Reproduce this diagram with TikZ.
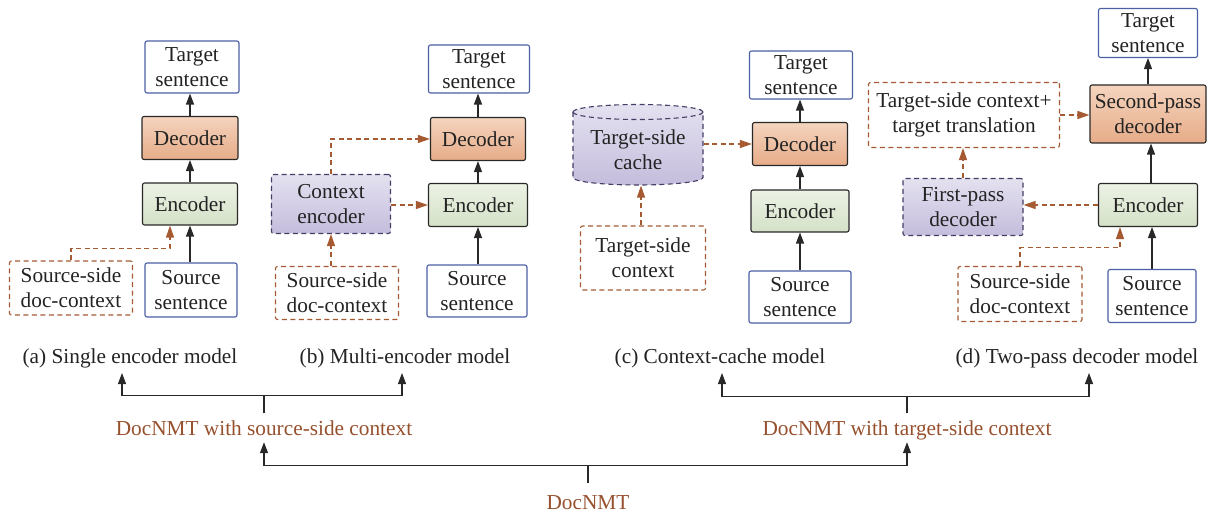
\documentclass[tikz,border=0pt]{standalone}
\usepackage{fontspec}
\setmainfont{Liberation Serif}
\usetikzlibrary{arrows.meta,calc}
\definecolor{txt}{RGB}{35,35,35}
\definecolor{lin}{RGB}{40,40,40}
\definecolor{sentb}{RGB}{75,95,165}
\definecolor{boxb}{RGB}{40,40,40}
\definecolor{decT}{RGB}{245,212,190}
\definecolor{decB}{RGB}{230,172,136}
\definecolor{encT}{RGB}{236,242,229}
\definecolor{encB}{RGB}{212,225,199}
\definecolor{purT}{RGB}{228,225,240}
\definecolor{purB}{RGB}{196,189,220}
\definecolor{purb}{RGB}{70,60,100}
\definecolor{brownl}{RGB}{165,90,50}
\definecolor{brownt}{RGB}{150,80,45}
\begin{document}
\begin{tikzpicture}[x=1pt,y=1pt,
  font=\fontsize{21.3pt}{25pt}\selectfont,
  sz/.style 2 args={minimum width=#1, minimum height=#2},
  base/.style={inner sep=0pt, align=center, text=txt, line width=1.1pt, rounded corners=2pt},
  sent/.style={base, draw=sentb, fill=white},
  decbox/.style={base, draw=boxb, top color=decT, bottom color=decB},
  encbox/.style={base, draw=boxb, top color=encT, bottom color=encB},
  ctxbox/.style={base, draw=purb, dash pattern=on 5pt off 3.5pt, top color=purT, bottom color=purB},
  docbox/.style={base, draw=brownl, dash pattern=on 5pt off 3.5pt},
  arr/.style={draw=lin, line width=1.1pt, -{Triangle[length=11pt,width=8pt]}},
  darr/.style={draw=brownl, line width=1.1pt, dash pattern=on 5pt off 3.5pt, -{Triangle[length=12pt,width=8pt]}},
  captxt/.style={inner sep=0pt, anchor=base, text=txt},
  lbl/.style={text=brownt, inner xsep=0pt, inner ysep=7pt, text height=14.5pt, text depth=0pt, anchor=base}
]
\useasboundingbox (0,0) rectangle (1208,-513);

% ---------- (a) ----------
\node[sent, sz={94pt}{52pt}] (tsa) at (192,-67) {Target\\sentence};
\node[decbox, sz={96pt}{43pt}] (deca) at (190,-138) {Decoder};
\node[encbox, sz={95pt}{42pt}] (enca) at (190,-204) {Encoder};
\node[sent, sz={92pt}{54pt}] (ssa) at (191,-290) {Source\\sentence};
\node[docbox, sz={123pt}{54pt}] (doca) at (71,-288) {Source-side\\doc-context};
\draw[arr] (ssa.north -| enca.south) -- (enca.south);
\draw[arr] (enca.north) -- (deca.south);
\draw[arr] (deca.north) -- (deca.north |- tsa.south);
\draw[darr] (doca.north) -- ++(0,12) -| ([xshift=-20pt]enca.south);

% ---------- (b) ----------
\node[sent, sz={101pt}{48pt}] (tsb) at (479,-69) {Target\\sentence};
\node[decbox, sz={95pt}{43pt}] (decb) at (478,-139) {Decoder};
\node[encbox, sz={99pt}{43pt}] (encb) at (478,-205) {Encoder};
\node[sent, sz={100pt}{52pt}] (ssb) at (477,-291) {Source\\sentence};
\node[ctxbox, sz={119pt}{59pt}] (ctxb) at (331,-204) {Context\\encoder};
\node[docbox, sz={123pt}{53pt}] (docb) at (337,-293) {Source-side\\doc-context};
\draw[arr] (ssb.north -| encb.south) -- (encb.south);
\draw[arr] (encb.north) -- (decb.south);
\draw[arr] (decb.north) -- (decb.north |- tsb.south);
\draw[darr] (docb.north -| ctxb.south) -- (ctxb.south);
\draw[darr] (ctxb.north) |- (decb.west);
\draw[darr] (ctxb.east |- encb.west) -- (encb.west);

% ---------- (c) ----------
\node[sent, sz={103pt}{48pt}] (tsc) at (801,-75) {Target\\sentence};
\node[decbox, sz={95pt}{43pt}] (decc) at (800,-144) {Decoder};
\node[encbox, sz={98pt}{42pt}] (encc) at (800,-211) {Encoder};
\node[sent, sz={102pt}{52pt}] (ssc) at (800,-297) {Source\\sentence};
\path[draw=purb, line width=1.1pt, dash pattern=on 5pt off 3.5pt, top color=purT, bottom color=purB]
  (573,-112) -- (573,-177.5) arc[start angle=180, end angle=360, x radius=65, y radius=7.5]
  -- (703,-112) arc[start angle=0, end angle=180, x radius=65, y radius=7.5] -- cycle;
\draw[draw=purb, line width=1.1pt, dash pattern=on 5pt off 3.5pt]
  (573,-112) arc[start angle=180, end angle=360, x radius=65, y radius=7.5];
\node[base, sz={130pt}{70pt}] (cache) at (638,-150) {Target-side\\cache};
\node[docbox, sz={125pt}{64pt}] (tcc) at (643,-258) {Target-side\\context};
\draw[arr] (ssc.north -| encc.south) -- (encc.south);
\draw[arr] (encc.north) -- (decc.south);
\draw[arr] (decc.north) -- (decc.north |- tsc.south);
\draw[darr] ([xshift=-2pt]tcc.north) -- ([xshift=-2pt]tcc.north |- cache.south);
\draw[darr] (cache.east |- decc.west) -- (decc.west);

% ---------- (d) ----------
\node[sent, sz={99pt}{49pt}] (tsd) at (1148,-33) {Target\\sentence};
\node[decbox, sz={116pt}{58pt}] (spd) at (1148,-114) {Second-pass\\decoder};
\node[encbox, sz={99pt}{43pt}] (encd) at (1148,-205) {Encoder};
\node[sent, sz={88pt}{53pt}] (ssd) at (1152,-296) {Source\\sentence};
\node[docbox, sz={191pt}{65pt}] (ctxd) at (964,-115) {Target-side context+\\target translation};
\node[ctxbox, sz={120pt}{57pt}] (fpd) at (963,-207) {First-pass\\decoder};
\node[docbox, sz={124pt}{55pt}] (docd) at (1020,-294) {Source-side\\doc-context};
\draw[arr] (ssd.north) -- (ssd.north |- encd.south);
\draw[arr] ([xshift=3pt]encd.north) -- ([xshift=3pt]encd.north |- spd.south);
\draw[arr] (spd.north) -- (spd.north |- tsd.south);
\draw[darr] (encd.west) -- (encd.west -| fpd.east);
\draw[darr] (fpd.north) -- (fpd.north |- ctxd.south);
\draw[darr] (ctxd.east) -- (ctxd.east -| spd.west);
\draw[darr] (docd.north) -- ++(0,18) -| ([xshift=-28pt]encd.south);

% ---------- bottom ----------
\node[captxt] (capa) at (130,-363) {(a) Single encoder model};
\node[captxt] (capb) at (405,-363) {(b) Multi-encoder model};
\node[captxt] (capc) at (720,-363) {(c) Context-cache model};
\node[captxt] (capd) at (1077,-363) {(d) Two-pass decoder model};
\coordinate (tipa) at (122,-373);
\coordinate (tipb) at (402,-373);
\coordinate (tipc) at (722,-373);
\coordinate (tipd) at (1089,-373);
\node[lbl] (srcctx) at (264,-435) {DocNMT with source-side context};
\node[lbl] (tgtctx) at (907,-435) {DocNMT with target-side context};
\node[lbl, inner ysep=11pt] (doc) at (588,-509) {DocNMT};
\draw[arr] (srcctx.north) -- ++(0,18) -| (tipa);
\draw[arr] (srcctx.north) -- ++(0,18) -| (tipb);
\draw[arr] (tgtctx.north) -- ++(0,16.5) -| (tipc);
\draw[arr] (tgtctx.north) -- ++(0,16.5) -| (tipd);
\draw[arr] (doc.north) -- ++(0,18) -| (srcctx.south);
\draw[arr] (doc.north) -- ++(0,18) -| (tgtctx.south);
\end{tikzpicture}
\end{document}
